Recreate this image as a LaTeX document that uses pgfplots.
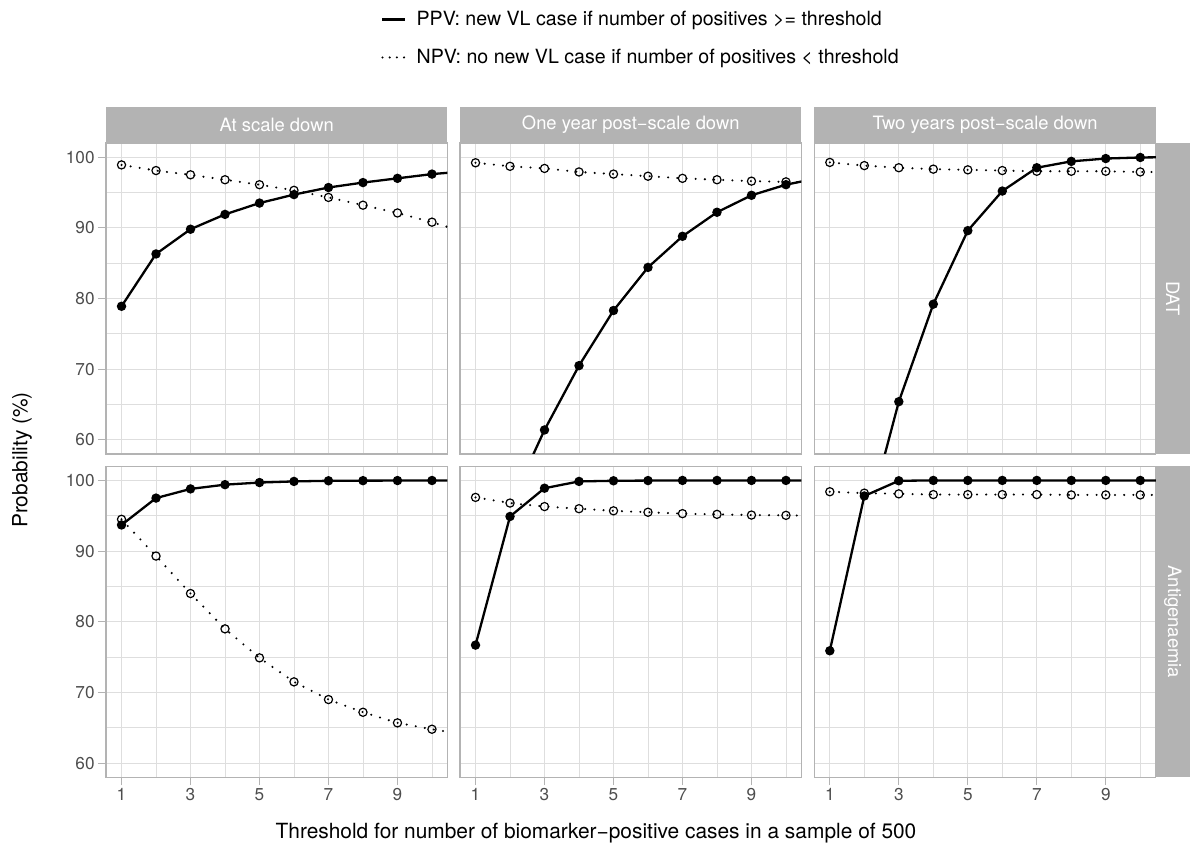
\documentclass[border=0pt]{standalone}
\usepackage{fontspec}
\setmainfont{TeX Gyre Heros}
\usepackage{pgfplots}
\usepackage{pgfplotstable}
\pgfplotsset{compat=1.18}

\definecolor{gg70}{HTML}{B3B3B3}
\definecolor{gg87}{HTML}{DEDEDE}
\definecolor{gg30}{HTML}{4D4D4D}

% x = threshold, ppv / npv in percent (x=11 and the low ppv values lie outside the view)
\pgfplotstableread{
x  ppv   npv
1  78.9  98.9
2  86.3  98.1
3  89.8  97.5
4  91.9  96.8
5  93.5  96.1
6  94.7  95.3
7  95.7  94.3
8  96.4  93.2
9  97.0  92.1
10 97.6  90.8
11 98.0  89.3
}\datScale
\pgfplotstableread{
x  ppv   npv
1  38.0  99.2
2  50.8  98.7
3  61.4  98.4
4  70.5  97.9
5  78.3  97.6
6  84.4  97.3
7  88.8  97.0
8  92.2  96.8
9  94.6  96.6
10 96.1  96.5
11 97.1  96.3
}\datOne
\pgfplotstableread{
x  ppv   npv
1  25.0  99.25
2  47.0  98.8
3  65.4  98.5
4  79.2  98.3
5  89.6  98.2
6  95.2  98.1
7  98.5  98.0
8  99.4  98.0
9  99.8  98.0
10 99.95 97.9
11 100.0 97.9
}\datTwo
\pgfplotstableread{
x  ppv   npv
1  93.7  94.5
2  97.5  89.3
3  98.8  84.0
4  99.4  79.0
5  99.7  74.9
6  99.86 71.5
7  99.95 69.0
8  99.97 67.2
9  99.98 65.7
10 99.99 64.8
11 100.0 64.0
}\agScale
\pgfplotstableread{
x  ppv   npv
1  76.7  97.6
2  94.9  96.8
3  98.9  96.3
4  99.86 96.0
5  99.95 95.7
6  99.98 95.5
7  100.0 95.3
8  100.0 95.2
9  100.0 95.1
10 100.0 95.06
11 100.0 95.0
}\agOne
\pgfplotstableread{
x  ppv   npv
1  75.9  98.4
2  97.8  98.2
3  99.95 98.1
4  100.0 98.0
5  100.0 98.0
6  100.0 98.0
7  100.0 98.0
8  100.0 97.95
9  100.0 97.95
10 100.0 97.95
11 100.0 97.95
}\agTwo

\pgfplotsset{
  facet/.style={
    scale only axis, width=170.75pt, height=155.5pt,
    anchor=south west,
    xmin=0.55, xmax=10.45, ymin=58, ymax=102,
    xtick={1,3,5,7,9}, minor xtick={2,4,6,8,10},
    ytick={60,70,80,90,100}, minor ytick={65,75,85,95},
    grid=both,
    major grid style={gg87, line width=0.6pt},
    minor grid style={gg87, line width=0.35pt},
    axis line style={gg70, line width=0.6pt},
    tick align=outside, major tick length=4pt, minor tick length=0pt,
    tick style={gg70, line width=0.6pt},
    xtick pos=bottom, ytick pos=left,
    ticklabel style={font=\fontsize{8.6}{10}\selectfont, text=gg30, inner sep=1.5pt},
    /pgf/number format/assume math mode=true,
  },
  noxlab/.style={xticklabels={}, xtick style={draw=none}},
  noylab/.style={yticklabels={}, ytick style={draw=none}},
  ppv/.style={black, line width=1.15pt, mark=*, mark size=1.75pt, mark options={solid}},
  npv/.style={black, line width=1.15pt, line cap=round, dash pattern=on 0pt off 4.6pt,
    mark=o, mark size=2.05pt, mark options={solid, line width=0.6pt, fill=none}},
}

\begin{document}
\begin{tikzpicture}
\tikzset{strip/.style={fill=gg70, draw=none}, striptext/.style={text=white, font=\fontsize{9.2}{11}\selectfont}}

% top row: DAT
\begin{axis}[facet, noxlab, name=a11, at={(53pt,204pt)},
  legend style={at={(0.7875,1.336)}, anchor=west, draw=none, fill=none,
    font=\fontsize{9.8}{11}\selectfont, row sep=6.3pt, cells={anchor=west},
    /tikz/every odd column/.append style={column sep=3pt}},
  legend image code/.code={\draw[#1] (0pt,0pt) -- (11.5pt,0pt);}]
\addlegendimage{black, line width=1.15pt}
\addlegendentry{PPV: new VL case if number of positives >= threshold}
\addlegendimage{black, line width=1.15pt, line cap=round, dash pattern=on 0pt off 3.6pt}
\addlegendentry{NPV: no new VL case if number of positives < threshold}
\addplot[ppv, forget plot] table[x=x, y=ppv] {\datScale};
\addplot[npv, forget plot] table[x=x, y=npv] {\datScale};
\end{axis}

\begin{axis}[facet, noxlab, noylab, name=a12, at={(230pt,204pt)}]
\addplot[ppv] table[x=x, y=ppv] {\datOne};
\addplot[npv] table[x=x, y=npv] {\datOne};
\end{axis}

\begin{axis}[facet, noxlab, noylab, name=a13, at={(407.15pt,204pt)}]
\addplot[ppv] table[x=x, y=ppv] {\datTwo};
\addplot[npv] table[x=x, y=npv] {\datTwo};
\end{axis}

% bottom row: Antigenaemia
\begin{axis}[facet, name=a21, at={(53pt,42.35pt)}]
\addplot[ppv] table[x=x, y=ppv] {\agScale};
\addplot[npv] table[x=x, y=npv] {\agScale};
\end{axis}

\begin{axis}[facet, noylab, name=a22, at={(230pt,42.35pt)}]
\addplot[ppv] table[x=x, y=ppv] {\agOne};
\addplot[npv] table[x=x, y=npv] {\agOne};
\end{axis}

\begin{axis}[facet, noylab, name=a23, at={(407.15pt,42.35pt)}]
\addplot[ppv] table[x=x, y=ppv] {\agTwo};
\addplot[npv] table[x=x, y=npv] {\agTwo};
\end{axis}

% column strips
\foreach \a/\t in {a11/At scale down, a12/One year post−scale down, a13/Two years post−scale down}{
  \fill[strip] (\a.north west) rectangle ([yshift=18.15pt]\a.north east);
  \node[striptext] at ([yshift=9.07pt]\a.north) {\t};
}
% row strips
\fill[strip] (a13.north east) rectangle ([xshift=17.15pt]a13.south east);
\node[striptext, rotate=-90] at ([xshift=8.57pt]a13.east) {DAT};
\fill[strip] (a23.north east) rectangle ([xshift=17.15pt]a23.south east);
\node[striptext, rotate=-90] at ([xshift=8.57pt]a23.east) {Antigenaemia};

% axis titles
\node[rotate=90, font=\fontsize{10.45}{12}\selectfont] at (11pt,201pt) {Probability (\%)};
\node[font=\fontsize{10.45}{12}\selectfont] at (298pt,14.5pt) {Threshold for number of biomarker−positive cases in a sample of 500};

\pgfresetboundingbox
\path[use as bounding box] (0,0) rectangle (595pt,431pt);
\end{tikzpicture}
\end{document}
